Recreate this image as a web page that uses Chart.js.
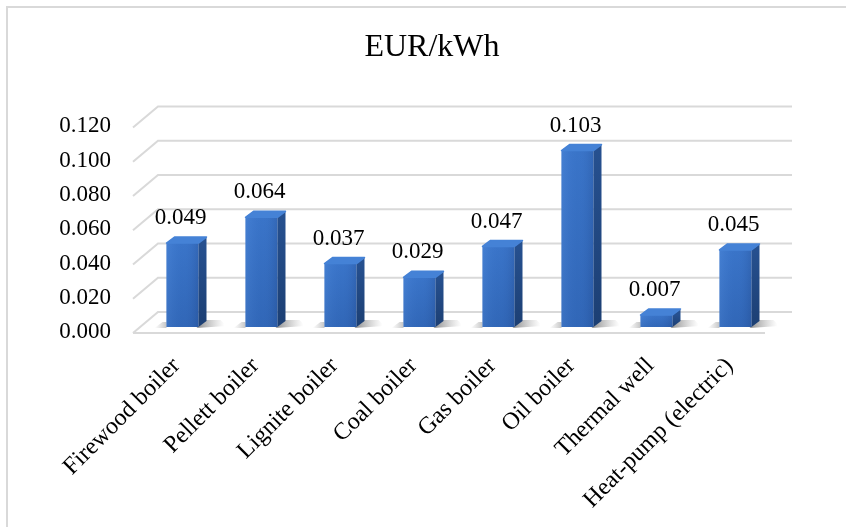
<!DOCTYPE html>
<html>
<head>
<meta charset="utf-8">
<script src="https://cdn.jsdelivr.net/npm/chart.js@4.4.1/dist/chart.umd.min.js"></script>
<style>
html,body{margin:0;padding:0;background:#fff;}
#wrap{width:846px;height:527px;}
</style>
</head>
<body>
<div id="wrap"><canvas id="c" width="846" height="527"></canvas></div>
<script>
const titleText = 'EUR/kWh';
const categories = ['Firewood boiler','Pellett boiler','Lignite boiler','Coal boiler','Gas boiler','Oil boiler','Thermal well','Heat-pump (electric)'];
const costValues = [0.049, 0.064, 0.037, 0.029, 0.047, 0.103, 0.007, 0.045];
const yMin = 0;
const yMax = 0.12;
const yStep = 0.02;

const FONT = '"Liberation Serif", "Times New Roman", Times, serif';
const GRID_COLOR = '#d9d9d9';
const BAR_SHIFT = -5;
const BD = {dx: 8, dy: -6};

const threeD = {
  id: 'threeD',
  beforeDraw(chart) {
    const ctx = chart.ctx;
    ctx.save();
    ctx.fillStyle = '#fff';
    ctx.fillRect(0, 0, chart.width, chart.height);
    ctx.strokeStyle = GRID_COLOR;
    ctx.lineWidth = 2;
    ctx.beginPath();
    ctx.moveTo(7, chart.height);
    ctx.lineTo(7, 7);
    ctx.lineTo(chart.width, 7);
    ctx.stroke();
    ctx.restore();
  },
  beforeDatasetsDraw(chart) {
    const ctx = chart.ctx, y = chart.scales.y, a = chart.chartArea;
    ctx.save();
    ctx.strokeStyle = GRID_COLOR;
    ctx.lineWidth = 2;
    const x0 = a.left - 10;
    y.ticks.forEach(t => {
      const py = y.getPixelForValue(t.value);
      ctx.beginPath();
      ctx.moveTo(x0, py + 1);
      ctx.lineTo(x0 + 25, py - 20);
      ctx.lineTo(a.right + 17, py - 20);
      ctx.stroke();
    });
    const p0 = y.getPixelForValue(0);
    ctx.beginPath();
    ctx.moveTo(x0, p0 + 1);
    ctx.lineTo(a.right - 10, p0 + 1);
    ctx.stroke();
    // floor shadows
    const meta = chart.getDatasetMeta(0);
    meta.data.forEach(el => {
      const R = el.x + el.width / 2, L = el.x - el.width / 2;
      const b = el.base + BAR_SHIFT;
      const g = ctx.createLinearGradient(R, 0, R + 26, 0);
      g.addColorStop(0, 'rgba(60,60,60,0.55)');
      g.addColorStop(1, 'rgba(120,120,120,0)');
      ctx.fillStyle = g;
      ctx.beginPath();
      ctx.moveTo(R - 2, b + 1);
      ctx.lineTo(R + 28, b - 1);
      ctx.lineTo(R + 22, b - 7);
      ctx.lineTo(R + 6, b - 7);
      ctx.closePath();
      ctx.fill();
      const g2 = ctx.createLinearGradient(L - 12, 0, L, 0);
      g2.addColorStop(0, 'rgba(120,120,120,0)');
      g2.addColorStop(1, 'rgba(90,90,90,0.35)');
      ctx.fillStyle = g2;
      ctx.beginPath();
      ctx.moveTo(L, b + 1);
      ctx.lineTo(L - 12, b + 1);
      ctx.lineTo(L - 4, b - 5);
      ctx.lineTo(L, b - 5);
      ctx.closePath();
      ctx.fill();
    });
    ctx.restore();
    ctx.save();
    ctx.translate(0, BAR_SHIFT);
  },
  afterDatasetsDraw(chart) {
    const ctx = chart.ctx;
    const meta = chart.getDatasetMeta(0);
    meta.data.forEach((el, i) => {
      const L = el.x - el.width / 2, R = el.x + el.width / 2;
      const top = el.y, base = el.base;
      // front face shading
      const gf = ctx.createLinearGradient(L, 0, R, 0);
      gf.addColorStop(0, 'rgba(90,150,230,0.35)');
      gf.addColorStop(0.5, 'rgba(60,120,210,0)');
      gf.addColorStop(1, 'rgba(20,50,110,0.25)');
      ctx.fillStyle = gf;
      ctx.fillRect(L, top, R - L, base - top);
      const gv = ctx.createLinearGradient(0, top, 0, base);
      gv.addColorStop(0, 'rgba(80,140,225,0.15)');
      gv.addColorStop(1, 'rgba(20,50,110,0.15)');
      ctx.fillStyle = gv;
      ctx.fillRect(L, top, R - L, base - top);
      // side face
      const gs = ctx.createLinearGradient(0, top, 0, base);
      gs.addColorStop(0, '#26508f');
      gs.addColorStop(1, '#1c3f73');
      ctx.fillStyle = gs;
      ctx.beginPath();
      ctx.moveTo(R, top);
      ctx.lineTo(R + BD.dx, top + BD.dy);
      ctx.lineTo(R + BD.dx, base + BD.dy);
      ctx.lineTo(R, base);
      ctx.closePath();
      ctx.fill();
      // top face
      ctx.fillStyle = '#4582d6';
      ctx.strokeStyle = '#4582d6';
      ctx.lineJoin = 'round';
      ctx.lineWidth = 1.5;
      ctx.beginPath();
      ctx.moveTo(L, top);
      ctx.lineTo(L + BD.dx, top + BD.dy);
      ctx.lineTo(R + BD.dx, top + BD.dy);
      ctx.lineTo(R, top);
      ctx.closePath();
      ctx.fill();
      ctx.stroke();
      // data label
      ctx.fillStyle = '#000';
      ctx.font = '23px ' + FONT;
      ctx.textAlign = 'center';
      ctx.textBaseline = 'middle';
      ctx.fillText(costValues[i].toFixed(3), el.x - 2, top + BD.dy - 19);
    });
    ctx.restore();
  }
};

new Chart(document.getElementById('c'), {
  type: 'bar',
  data: {
    labels: categories,
    datasets: [{
      data: costValues,
      backgroundColor: '#3670c4',
      borderWidth: 0,
      barPercentage: 0.405,
      categoryPercentage: 1.0
    }]
  },
  options: {
    responsive: false,
    animation: false,
    devicePixelRatio: 1,
    layout: {padding: {left: 18, right: 0, top: 0, bottom: 0}},
    plugins: {
      legend: {display: false},
      tooltip: {enabled: false},
      title: {
        display: true,
        text: titleText,
        color: '#000',
        font: {family: FONT, size: 32, weight: 'normal'},
        padding: {top: 28, bottom: 60}
      }
    },
    scales: {
      x: {
        grid: {display: false, drawTicks: false},
        border: {display: false},
        ticks: {
          autoSkip: false,
          maxRotation: 45,
          minRotation: 45,
          padding: 20,
          labelOffset: -6,
          color: '#000',
          font: {family: FONT, size: 24}
        },
        afterFit(scale) { scale.height = 195; }
      },
      y: {
        min: yMin,
        max: yMax,
        grid: {display: false, drawTicks: false},
        border: {display: false},
        ticks: {
          stepSize: yStep,
          padding: 32,
          color: '#000',
          font: {family: FONT, size: 23},
          callback: v => Number(v).toFixed(3)
        },
        afterFit(scale) { scale.width = 125; }
      },
      yR: {
        position: 'right',
        display: true,
        grid: {display: false, drawTicks: false},
        border: {display: false},
        ticks: {display: false},
        afterFit(scale) { scale.width = 71; }
      }
    }
  },
  plugins: [threeD]
});
</script>
</body>
</html>
